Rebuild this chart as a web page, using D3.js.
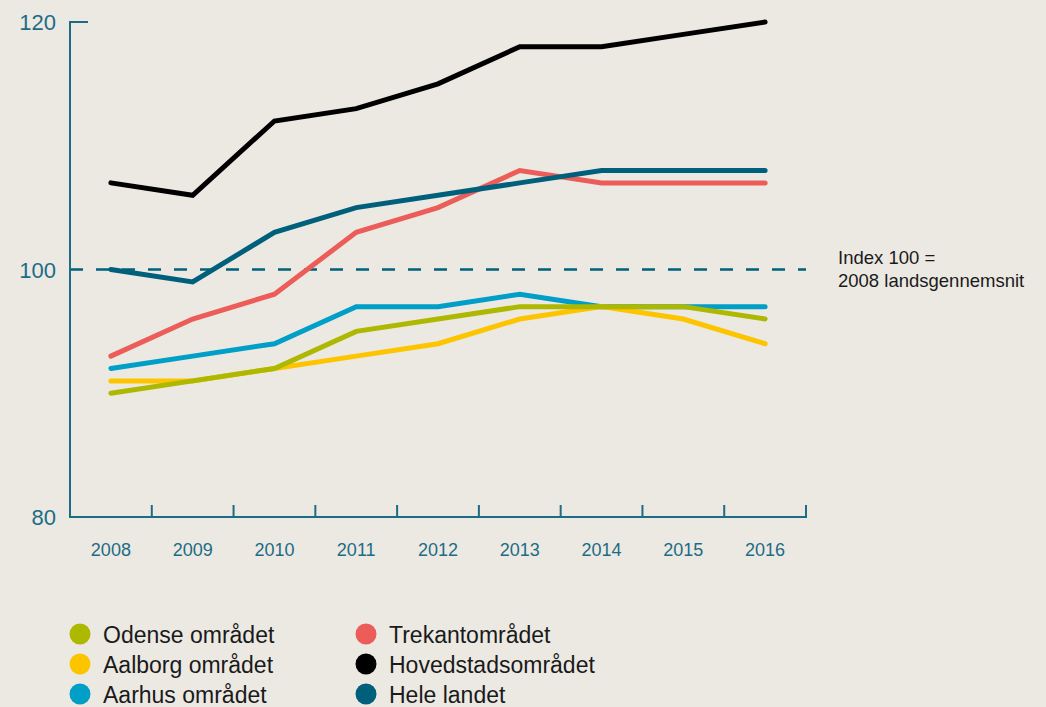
<!DOCTYPE html>
<meta charset="utf-8" />
<title>Index 2008-2016</title>
<style>
  html, body { margin: 0; background: #ece9e3; }
  svg { display: block; font-family: "Liberation Sans", Arial, sans-serif; }
  .axis-text { fill: #1d6c85; }
  .legend-text { fill: #1a1a1a; font-size: 23px; }
</style>
<body>
<svg width="1046" height="707"></svg>
<script src="https://cdn.jsdelivr.net/npm/d3@7"></script>
<script>
  const years = [2008, 2009, 2010, 2011, 2012, 2013, 2014, 2015, 2016];
  const yTicks = [80, 100, 120];

  const odense     = [90, 91, 92, 95, 96, 97, 97, 97, 96];
  const aalborg    = [91, 91, 92, 93, 94, 96, 97, 96, 94];
  const aarhus     = [92, 93, 94, 97, 97, 98, 97, 97, 97];
  const trekant    = [93, 96, 98, 103, 105, 108, 107, 107, 107];
  const hovedstad  = [107, 106, 112, 113, 115, 118, 118, 119, 120];
  const heleLandet = [100, 99, 103, 105, 106, 107, 108, 108, 108];

  const series = [
    { name: "Aarhus området", values: aarhus, color: "#009fc7" },
    { name: "Aalborg området", values: aalborg, color: "#fdc400" },
    { name: "Odense området", values: odense, color: "#afb800" },
    { name: "Trekantområdet", values: trekant, color: "#ec5d5a" },
    { name: "Hele landet", values: heleLandet, color: "#005f7b" },
    { name: "Hovedstadsområdet", values: hovedstad, color: "#000000" }
  ];
  const legendCols = [
    ["Odense området", "Aalborg området", "Aarhus området"],
    ["Trekantområdet", "Hovedstadsområdet", "Hele landet"]
  ];

  const axisColor = "#1d6c85";
  const svg = d3.select("svg");

  const x = d3.scaleBand().domain(years).range([70, 806]);
  const y = d3.scaleLinear().domain([80, 120]).range([517, 22]);

  // reference line at 100
  svg.append("line")
    .attr("x1", 70).attr("x2", 806)
    .attr("y1", y(100)).attr("y2", y(100))
    .attr("stroke", "#005f7b").attr("stroke-width", 2.5)
    .attr("stroke-dasharray", "13,13");

  // axes
  svg.append("path")
    .attr("d", `M88,${y(120)}H70V${y(80)}H806V${y(80) - 12}`)
    .attr("fill", "none").attr("stroke", axisColor).attr("stroke-width", 2);

  svg.append("g").selectAll("line")
    .data(years.slice(1))
    .join("line")
    .attr("x1", d => x(d)).attr("x2", d => x(d))
    .attr("y1", y(80)).attr("y2", y(80) - 12)
    .attr("stroke", axisColor).attr("stroke-width", 2);

  svg.append("g").selectAll("text")
    .data(yTicks)
    .join("text")
    .attr("class", "axis-text")
    .attr("x", 56).attr("y", d => y(d) + 8)
    .attr("text-anchor", "end")
    .attr("font-size", 22)
    .text(d => d);

  svg.append("g").selectAll("text")
    .data(years)
    .join("text")
    .attr("class", "axis-text")
    .attr("x", d => x(d) + x.bandwidth() / 2)
    .attr("y", 556)
    .attr("text-anchor", "middle")
    .attr("font-size", 18)
    .text(d => d);

  // lines
  const line = d3.line()
    .x((d, i) => x(years[i]) + x.bandwidth() / 2)
    .y(d => y(d));

  svg.append("g").selectAll("path")
    .data(series)
    .join("path")
    .attr("d", d => line(d.values))
    .attr("fill", "none")
    .attr("stroke", d => d.color)
    .attr("stroke-width", 5)
    .attr("stroke-linecap", "round")
    .attr("stroke-linejoin", "miter");

  // annotation
  const note = svg.append("text")
    .attr("x", 838).attr("y", 264)
    .attr("font-size", 18.5).attr("fill", "#1a1a1a");
  note.append("tspan").attr("x", 838).text("Index 100 =");
  note.append("tspan").attr("x", 838).attr("dy", 23).text("2008 landsgennemsnit");

  // legend
  const colorOf = name => series.find(s => s.name === name).color;
  legendCols.forEach((col, ci) => {
    const g = svg.append("g").attr("transform", `translate(${80 + ci * 286},634)`);
    const item = g.selectAll("g")
      .data(col)
      .join("g")
      .attr("transform", (d, i) => `translate(0,${i * 30})`);
    item.append("circle").attr("r", 10.5).attr("fill", d => colorOf(d));
    item.append("text")
      .attr("class", "legend-text")
      .attr("x", 23).attr("y", 9)
      .text(d => d);
  });
</script>
</body>
